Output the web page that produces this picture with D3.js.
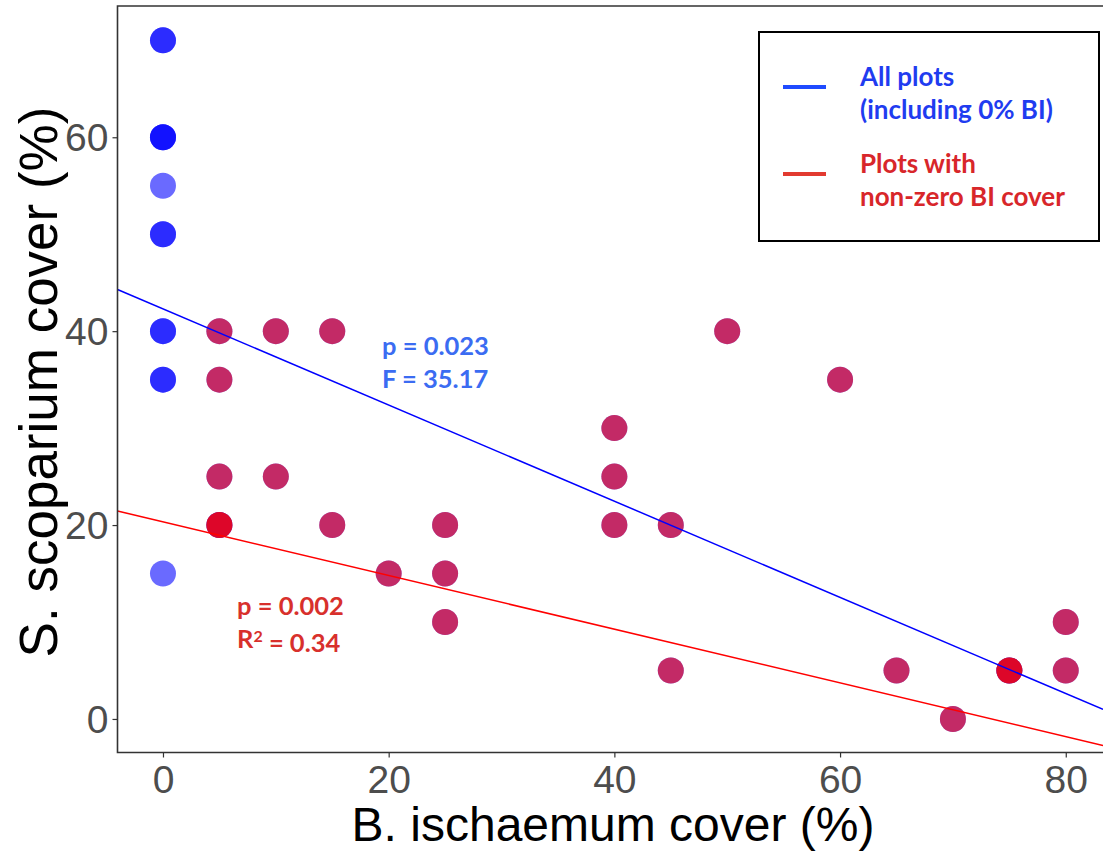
<!DOCTYPE html>
<html>
<head>
<meta charset="utf-8">
<script src="https://cdn.jsdelivr.net/npm/d3@7"></script>
<style>
  html, body { margin: 0; padding: 0; background: #fff; }
  svg { display: block; }
</style>
</head>
<body>
<svg id="chart" width="1103" height="852"></svg>
<script>
// B. ischaemum cover (%) and S. scoparium cover (%) per plot
const biCover = [0, 0, 0, 0, 0, 0, 0, 0, 0, 0, 0, 0, 0,
  5, 10, 15, 5, 5, 10, 5, 5, 15, 25, 20, 25, 25,
  40, 40, 40, 45, 45, 50, 60, 65, 70, 75, 75, 80, 80];
const ssCover = [70, 70, 60, 60, 60, 55, 50, 50, 40, 40, 35, 35, 15,
  40, 40, 40, 35, 25, 25, 20, 20, 20, 20, 15, 15, 10,
  30, 25, 20, 20, 5, 40, 35, 5, 0, 5, 5, 10, 5];

// Fitted lines: [intercept, slope]
const fitAllPlots = [42.3, -0.496];
const fitNonZero = [20.34, -0.277];

const xTicks = [0, 20, 40, 60, 80];
const yTicks = [0, 20, 40, 60];

const legendLabels = [["All plots", "(including 0% BI)"], ["Plots with", "non-zero BI cover"]];
const statsAll = ["p = 0.023", "F = 35.17"];
const statsNonZero = ["p = 0.002", "0.34"];

(function () {
const svg = d3.select("#chart");
const pLeft = 117.5, pRight = 1103, pTop = 6, pBottom = 752.5;

const x = d3.scaleLinear().domain([-4.03, 83.3]).range([pLeft, pRight]);
const y = d3.scaleLinear().domain([-3.46, 73.54]).range([pBottom, pTop]);

const pts = biCover.map((b, i) => ({ b, s: ssCover[i] }));

// clip for plot contents
svg.append("clipPath").attr("id", "plotclip")
  .append("rect").attr("x", pLeft).attr("y", pTop)
  .attr("width", pRight - pLeft).attr("height", pBottom - pTop);

const plot = svg.append("g").attr("clip-path", "url(#plotclip)");

// all plots in blue, then non-zero plots overlaid in red
plot.selectAll("circle.all").data(pts).join("circle")
  .attr("class", "all")
  .attr("cx", d => x(d.b)).attr("cy", d => y(d.s)).attr("r", 13)
  .attr("fill", "#0000ff").attr("fill-opacity", 0.585);

plot.selectAll("circle.nz").data(pts.filter(d => d.b > 0)).join("circle")
  .attr("class", "nz")
  .attr("cx", d => x(d.b)).attr("cy", d => y(d.s)).attr("r", 13)
  .attr("fill", "#ff0000").attr("fill-opacity", 0.6);

// regression lines across the full x range
const [x0, x1] = x.domain();
function fitLine(fit, color) {
  plot.append("line")
    .attr("x1", x(x0)).attr("y1", y(fit[0] + fit[1] * x0))
    .attr("x2", x(x1)).attr("y2", y(fit[0] + fit[1] * x1))
    .attr("stroke", color).attr("stroke-width", 1.5);
}
fitLine(fitAllPlots, "#0000ff");
fitLine(fitNonZero, "#ff0000");

// axes
const axisColor = "#333333";
const xAxis = svg.append("g").attr("transform", `translate(0,${pBottom})`)
  .call(d3.axisBottom(x).tickValues(xTicks).tickSize(5).tickPadding(6).tickFormat(d3.format("d")));
const yAxis = svg.append("g").attr("transform", `translate(${pLeft},0)`)
  .call(d3.axisLeft(y).tickValues(yTicks).tickSize(5).tickPadding(4).tickFormat(d3.format("d")));

[xAxis, yAxis].forEach(g => {
  g.select(".domain").remove();
  g.selectAll(".tick line").attr("stroke", axisColor).attr("stroke-width", 1.2);
  g.selectAll(".tick text")
    .attr("fill", "#4d4d4d")
    .style("font-family", "'Liberation Sans', Arial, sans-serif")
    .style("font-size", "39px");
});
xAxis.selectAll(".tick text").attr("dy", "0.76em");
yAxis.selectAll(".tick text").attr("dy", "0.35em");

// frame: left, bottom and top borders
svg.append("path")
  .attr("d", `M${pRight},${pTop}H${pLeft}V${pBottom}H${pRight}`)
  .attr("fill", "none").attr("stroke", axisColor).attr("stroke-width", 1.6);

// axis titles
svg.append("text")
  .attr("x", 613).attr("y", 841)
  .attr("text-anchor", "middle")
  .style("font-family", "'Liberation Sans', Arial, sans-serif")
  .style("font-size", "48px").attr("fill", "#000")
  .text("B. ischaemum cover (%)");

svg.append("text")
  .attr("transform", `translate(57,382) rotate(-90)`)
  .attr("text-anchor", "middle")
  .style("font-family", "'Liberation Sans', Arial, sans-serif")
  .style("font-size", "53px").attr("fill", "#000")
  .text("S. scoparium cover (%)");

// legend
const legendFont = "Lato, 'Open Sans', sans-serif";
const lg = svg.append("g");
lg.append("rect").attr("x", 759).attr("y", 32).attr("width", 340).attr("height", 209)
  .attr("fill", "#fff").attr("stroke", "#000").attr("stroke-width", 2);

const legendColors = [["#1f4bff", "#1f3cf0"], ["#e23a30", "#d8262a"]];
const legendRowY = [77, 164];
legendLabels.forEach((lines, i) => {
  lg.append("line").attr("x1", 783).attr("x2", 826)
    .attr("y1", legendRowY[i] + 10).attr("y2", legendRowY[i] + 10)
    .attr("stroke", legendColors[i][0]).attr("stroke-width", 4);
  lines.forEach((t, j) => {
    lg.append("text")
      .attr("x", 860).attr("y", legendRowY[i] + j * 33)
      .attr("dy", "0.35em")
      .style("font-family", legendFont).style("font-weight", "bold").style("font-size", "26px")
      .attr("fill", legendColors[i][1])
      .text(t);
  });
});

// statistics annotations
const annAll = svg.append("g");
statsAll.forEach((t, j) => {
  annAll.append("text")
    .attr("x", 382).attr("y", 346 + j * 33).attr("dy", "0.35em")
    .style("font-family", legendFont).style("font-weight", "bold").style("font-size", "25.5px")
    .attr("fill", "#3b6cf2").text(t);
});

const annNz = svg.append("g")
  .style("font-family", legendFont).style("font-weight", "bold").style("font-size", "25.5px")
  .attr("fill", "#d8302c");
annNz.append("text").attr("x", 237).attr("y", 606).attr("dy", "0.35em").text(statsNonZero[0]);
const r2 = annNz.append("text").attr("x", 237).attr("y", 639).attr("dy", "0.35em");
r2.append("tspan").text("R");
r2.append("tspan").attr("dy", "-0.4em").style("font-size", "16px").text("2");
r2.append("tspan").attr("dy", "0.4em").text(" = " + statsNonZero[1]);
})();
</script>
</body>
</html>
